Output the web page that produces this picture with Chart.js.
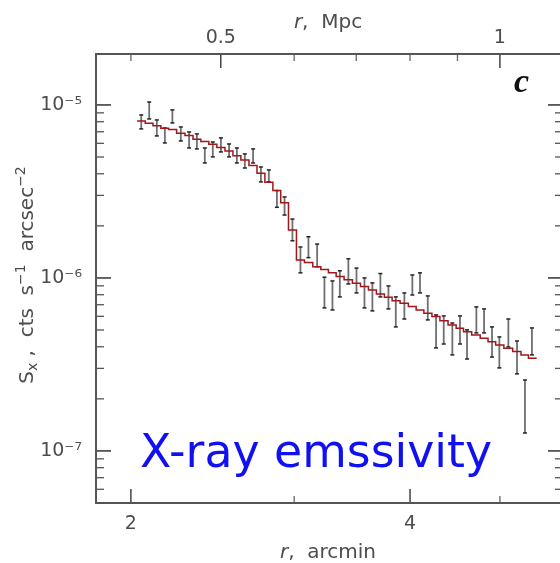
<!DOCTYPE html>
<html>
<head>
<meta charset="utf-8">
<title>X-ray emissivity profile</title>
<script src="https://cdn.jsdelivr.net/npm/chart.js@4.4.0/dist/chart.umd.min.js"></script>
<style>
html, body { margin: 0; padding: 0; background: #fff; overflow: hidden; }
canvas { display: block; }
</style>
</head>
<body>
<canvas id="sx" width="570" height="563"></canvas>
<script>
// bin centres, arcmin
var binR = [2.052, 2.093, 2.133, 2.176, 2.217, 2.264, 2.311, 2.356, 2.403, 2.451,
            2.501, 2.552, 2.602, 2.654, 2.709, 2.762, 2.817, 2.874, 2.929, 2.987,
            3.047, 3.108, 3.176, 3.234, 3.299, 3.360, 3.432, 3.502, 3.572, 3.643,
            3.716, 3.791, 3.861, 3.944, 4.023, 4.100, 4.180, 4.267, 4.349, 4.443,
            4.528, 4.608, 4.716, 4.807, 4.903, 4.993, 5.106, 5.217, 5.321, 5.414];
// error bar ends, cts s-1 arcsec-2
var sxHi = [8.75e-6, 1.04e-5, 8.19e-6, 7.36e-6, 9.36e-6, 7.46e-6, 6.98e-6, 6.80e-6, 5.64e-6, 6.11e-6,
            6.45e-6, 5.95e-6, 5.64e-6, 5.21e-6, 5.57e-6, 4.38e-6, 4.21e-6, 3.20e-6, 2.94e-6, 2.19e-6,
            1.51e-6, 1.73e-6, 1.57e-6, 1.01e-6, 9.61e-7, 1.10e-6, 1.29e-6, 1.14e-6, 1.00e-6, 9.36e-7,
            1.06e-6, 8.99e-7, 7.77e-7, 8.19e-7, 1.04e-6, 1.07e-6, 7.87e-7, 6.11e-7, 6.03e-7, 5.49e-7,
            6.03e-7, 5.01e-7, 6.80e-7, 6.62e-7, 5.21e-7, 4.56e-7, 5.79e-7, 4.32e-7, 2.57e-7, 5.14e-7];
var sxLo = [7.27e-6, 8.30e-6, 6.62e-6, 6.03e-6, 7.87e-6, 6.19e-6, 5.64e-6, 5.57e-6, 4.62e-6, 5.01e-6,
            5.35e-6, 5.01e-6, 4.62e-6, 4.32e-6, 4.62e-6, 3.59e-6, 3.59e-6, 2.56e-6, 2.31e-6, 1.64e-6,
            1.07e-6, 1.31e-6, 1.16e-6, 6.71e-7, 6.53e-7, 7.77e-7, 9.23e-7, 8.19e-7, 6.71e-7, 6.45e-7,
            7.77e-7, 6.62e-7, 5.21e-7, 5.79e-7, 7.97e-7, 8.19e-7, 5.72e-7, 3.94e-7, 4.15e-7, 3.59e-7,
            4.15e-7, 3.40e-7, 4.81e-7, 4.81e-7, 3.49e-7, 3.02e-7, 3.99e-7, 2.79e-7, 1.27e-7, 3.59e-7];
// model (red histogram)
var sxModel = [8.08e-6, 7.84e-6, 7.59e-6, 7.33e-6, 7.20e-6, 6.86e-6, 6.65e-6, 6.33e-6, 6.14e-6, 5.93e-6,
               5.67e-6, 5.42e-6, 5.09e-6, 4.81e-6, 4.46e-6, 4.03e-6, 3.57e-6, 3.20e-6, 2.72e-6, 1.89e-6,
               1.27e-6, 1.23e-6, 1.16e-6, 1.12e-6, 1.07e-6, 1.02e-6, 9.77e-7, 9.32e-7, 8.91e-7, 8.52e-7,
               8.08e-7, 7.74e-7, 7.39e-7, 7.14e-7, 6.83e-7, 6.53e-7, 6.25e-7, 5.98e-7, 5.66e-7, 5.35e-7,
               5.12e-7, 4.89e-7, 4.68e-7, 4.48e-7, 4.28e-7, 4.10e-7, 3.92e-7, 3.75e-7, 3.59e-7, 3.43e-7];
var modelStart = 2.031, modelEnd = 5.478;

var rMin = 1.834, rMax = 5.848;        // arcmin
var arcminPerMpc = 5;
var sxMin = 5.0e-8, sxMax = 1.97e-5;

var xTicks = [2, 4], xMinor = [3, 5];
var mpcTicks = [0.5, 1], mpcMinor = [0.4, 0.6, 0.7, 0.8, 0.9];
var yTicks = [1e-7, 1e-6, 1e-5];
var yLabels = ['10\u207B\u2077', '10\u207B\u2076', '10\u207B\u2075'];

var txt = '#4d4d4d';
var tickFont = { family: 'DejaVu Sans', size: 19 };

var barPts = [];
for (var i = 0; i < binR.length; i++) {
    barPts.push({ x: binR[i], y: sxLo[i] });
    barPts.push({ x: binR[i], y: sxHi[i] });
    barPts.push({ x: binR[i], y: null });
}
var modelPts = [{ x: modelStart, y: sxModel[0] }];
for (var j = 0; j < binR.length; j++) modelPts.push({ x: binR[j], y: sxModel[j] });
modelPts.push({ x: modelEnd, y: sxModel[sxModel.length - 1] });

function rich(ctx, parts, x, y, size) {
    function fnt(p) {
        var s = (p.s === 'sup' || p.s === 'sub') ? Math.round(size * 0.72) : size;
        return (p.s === 'i' ? 'italic ' : '') + s + 'px "DejaVu Sans"';
    }
    var w = 0;
    parts.forEach(function (p) { ctx.font = fnt(p); w += ctx.measureText(p.t).width; });
    var cx = x - w / 2;
    parts.forEach(function (p) {
        ctx.font = fnt(p);
        var dy = p.s === 'sup' ? -size * 0.42 : (p.s === 'sub' ? size * 0.22 : 0);
        ctx.fillText(p.t, cx, y + dy);
        cx += ctx.measureText(p.t).width;
    });
}

var decor = {
    id: 'decor',
    afterDraw: function (chart) {
        var ctx = chart.ctx, a = chart.chartArea, sc = chart.scales;
        ctx.save();
        ctx.lineCap = 'butt';

        function marks(scale, vals, len, side, col, lw) {
            ctx.strokeStyle = col;
            ctx.lineWidth = lw;
            vals.forEach(function (v) {
                var p = scale.getPixelForValue(v);
                ctx.beginPath();
                if (side === 'bottom') { ctx.moveTo(p, a.bottom); ctx.lineTo(p, a.bottom - len); }
                if (side === 'top') { ctx.moveTo(p, a.top); ctx.lineTo(p, a.top + len); }
                if (side === 'left') { ctx.moveTo(a.left, p); ctx.lineTo(a.left + len, p); }
                if (side === 'right') { ctx.moveTo(a.right, p); ctx.lineTo(a.right - len, p); }
                ctx.stroke();
            });
        }
        var yMinor = [];
        [1e-8, 1e-7, 1e-6, 1e-5].forEach(function (d) {
            for (var k = 2; k <= 9; k++) {
                var v = d * k;
                if (v > sxMin && v < sxMax) yMinor.push(v);
            }
        });
        marks(sc.x, xTicks, 14, 'bottom', '#444', 1.5);
        marks(sc.x, xMinor, 7, 'bottom', '#666', 1.3);
        marks(sc.x2, mpcTicks, 14, 'top', '#444', 1.5);
        marks(sc.x2, mpcMinor, 7, 'top', '#666', 1.3);
        marks(sc.y, yTicks, 15, 'left', '#333', 1.5);
        marks(sc.y, yMinor, 8, 'left', '#555', 1.3);
        marks(sc.y, yTicks, 15, 'right', '#333', 1.5);
        marks(sc.y, yMinor, 8, 'right', '#555', 1.3);

        ctx.strokeStyle = '#555';
        ctx.lineWidth = 2;
        ctx.strokeRect(a.left, a.top, a.right - a.left, a.bottom - a.top);

        // axis titles
        ctx.fillStyle = txt;
        ctx.textBaseline = 'alphabetic';
        rich(ctx, [{ t: 'r', s: 'i' }, { t: ',  Mpc' }], 328, 28, 20);
        rich(ctx, [{ t: 'r', s: 'i' }, { t: ',  arcmin' }], 328, 558, 20);
        ctx.save();
        ctx.translate(33, 275);
        ctx.rotate(-Math.PI / 2);
        rich(ctx, [{ t: 'S' }, { t: 'x', s: 'sub' }, { t: ' ,  cts  s' }, { t: '\u22121', s: 'sup' },
                   { t: '  arcsec' }, { t: '\u22122', s: 'sup' }], 0, 0, 20);
        ctx.restore();

        // panel letter and note
        ctx.fillStyle = '#111';
        ctx.font = 'bold italic 34px "Liberation Serif"';
        ctx.fillText('c', 514, 92);
        ctx.fillStyle = '#1010f0';
        ctx.font = '46px "DejaVu Sans"';
        ctx.fillText('X-ray emssivity', 140, 467, 352);
        ctx.restore();
    }
};

var ctxSx = document.getElementById('sx');
var sxChart = new Chart(ctxSx, {
    type: 'line',
    data: {
        datasets: [{
            label: 'model',
            data: modelPts,
            stepped: 'middle',
            borderColor: '#a3161a',
            borderWidth: 1.5,
            pointRadius: 0,
            fill: false,
            order: 0
        }, {
            label: 'data',
            data: barPts,
            borderColor: '#707070',
            borderWidth: 1.8,
            pointStyle: 'line',
            pointRadius: 2,
            pointBorderColor: '#222',
            pointBorderWidth: 1.5,
            spanGaps: false,
            fill: false,
            order: 1
        }]
    },
    options: {
        responsive: false,
        animation: false,
        devicePixelRatio: 1,
        layout: { padding: { left: 0, right: 7, top: 0, bottom: 0 } },
        plugins: { legend: { display: false }, tooltip: { enabled: false } },
        scales: {
            x: {
                type: 'logarithmic', position: 'bottom', min: rMin, max: rMax,
                grid: { display: false, drawTicks: false }, border: { display: false },
                afterBuildTicks: function (s) { s.ticks = xTicks.map(function (v) { return { value: v }; }); },
                afterFit: function (s) { s.height = 60; },
                ticks: { padding: 10, color: txt, font: tickFont, maxRotation: 0, autoSkip: false,
                         callback: function (v) { return String(v); } }
            },
            x2: {
                type: 'logarithmic', position: 'top',
                min: rMin / arcminPerMpc, max: rMax / arcminPerMpc,
                grid: { display: false, drawTicks: false }, border: { display: false },
                afterBuildTicks: function (s) { s.ticks = mpcTicks.map(function (v) { return { value: v }; }); },
                afterFit: function (s) { s.height = 54; },
                ticks: { padding: 5, color: txt, font: tickFont, maxRotation: 0, autoSkip: false,
                         callback: function (v) { return String(v); } }
            },
            y: {
                type: 'logarithmic', position: 'left', min: sxMin, max: sxMax,
                grid: { display: false, drawTicks: false }, border: { display: false },
                afterBuildTicks: function (s) { s.ticks = yTicks.map(function (v) { return { value: v }; }); },
                afterFit: function (s) { s.width = 96; },
                ticks: { padding: 14, color: txt, font: tickFont, autoSkip: false,
                         callback: function (v) { return yLabels[yTicks.indexOf(v)]; } }
            }
        }
    },
    plugins: [decor]
});
</script>
</body>
</html>
